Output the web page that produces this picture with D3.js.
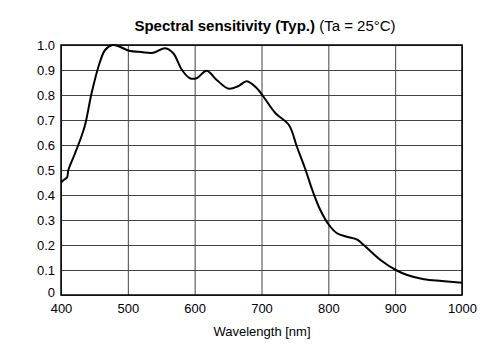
<!DOCTYPE html>
<html>
<head>
<meta charset="utf-8">
<script src="https://cdn.jsdelivr.net/npm/d3@7"></script>
<style>
  body { margin: 0; background: #fff; }
  svg text { font-family: "Liberation Sans", Arial, sans-serif; }
</style>
</head>
<body>
<div id="chart"></div>
<script>
// 読み取った値 (波長 nm, 相対感度)
const wavelength = [400, 404, 409, 411, 420, 430, 436, 446, 458, 466, 477, 488, 502, 520, 538, 556, 568, 581, 593, 603, 618, 633, 651, 665, 678, 693, 703, 721, 741, 753, 766, 776, 788, 801, 813, 828, 843, 853, 878, 901, 918, 943, 970, 1000]
const sensitivity = [0.45, 0.46, 0.47, 0.50, 0.56, 0.63, 0.68, 0.81, 0.93, 0.98, 1.0, 0.993, 0.977, 0.972, 0.969, 0.987, 0.967, 0.90, 0.867, 0.867, 0.897, 0.86, 0.825, 0.835, 0.855, 0.827, 0.793, 0.727, 0.68, 0.593, 0.5, 0.42, 0.34, 0.28, 0.247, 0.233, 0.222, 0.2, 0.14, 0.1, 0.08, 0.063, 0.056, 0.049]
const xTicks = [400, 500, 600, 700, 800, 900, 1000]
const yTicks = [0, 0.1, 0.2, 0.3, 0.4, 0.5, 0.6, 0.7, 0.8, 0.9, 1.0]

const width = 498, height = 358
const margin = { top: 45, right: 36, bottom: 63, left: 61 }

const svg = d3.select('#chart').append('svg')
  .attr('width', width)
  .attr('height', height)

const x = d3.scaleLinear().domain([400, 1000]).range([margin.left, width - margin.right])
const y = d3.scaleLinear().domain([0, 1]).range([height - margin.bottom, margin.top])

// グリッド
svg.append('g')
  .attr('transform', `translate(0,${height - margin.bottom})`)
  .call(d3.axisBottom(x).tickValues(xTicks).tickSize(-(height - margin.top - margin.bottom)).tickFormat(''))
  .call(g => g.select('.domain').remove())
  .call(g => g.selectAll('line').attr('stroke', '#444').attr('stroke-width', 1))

svg.append('g')
  .attr('transform', `translate(${margin.left},0)`)
  .call(d3.axisLeft(y).tickValues(yTicks).tickSize(-(width - margin.left - margin.right)).tickFormat(''))
  .call(g => g.select('.domain').remove())
  .call(g => g.selectAll('line').attr('stroke', '#444').attr('stroke-width', 1))

// 目盛りラベル
svg.append('g')
  .attr('transform', `translate(0,${height - margin.bottom})`)
  .call(d3.axisBottom(x).tickValues(xTicks).tickSize(0).tickPadding(9).tickFormat(d3.format('d')))
  .call(g => g.select('.domain').remove())
  .call(g => g.selectAll('text').attr('font-size', 13).attr('fill', '#000'))

svg.append('g')
  .attr('transform', `translate(${margin.left},0)`)
  .call(d3.axisLeft(y).tickValues(yTicks).tickSize(0).tickPadding(6)
    .tickFormat(d => d === 0 ? '0' : d3.format('.1f')(d)))
  .call(g => g.select('.domain').remove())
  .call(g => g.selectAll('text').attr('font-size', 13).attr('fill', '#000'))
  .call(g => g.selectAll('.tick').filter(d => d === 0).select('text').attr('dy', '0.1em'))

// 枠
svg.append('rect')
  .attr('x', margin.left)
  .attr('y', margin.top)
  .attr('width', width - margin.left - margin.right)
  .attr('height', height - margin.top - margin.bottom)
  .attr('fill', 'none')
  .attr('stroke', '#000')
  .attr('stroke-width', 1.5)

// 曲線
const line = d3.line()
  .x((d, i) => x(wavelength[i]))
  .y(d => y(d))
  .curve(d3.curveCatmullRom.alpha(0.5))

svg.append('path')
  .datum(sensitivity)
  .attr('d', line)
  .attr('fill', 'none')
  .attr('stroke', '#000')
  .attr('stroke-width', 2)

// タイトル
const title = svg.append('text')
  .attr('x', 265)
  .attr('y', 31)
  .attr('text-anchor', 'middle')
  .attr('font-size', 15)
title.append('tspan').attr('font-weight', 'bold').text('Spectral sensitivity (Typ.)')
title.append('tspan').text(' (Ta = 25°C)')

svg.append('text')
  .attr('x', 262)
  .attr('y', 336)
  .attr('text-anchor', 'middle')
  .attr('font-size', 13)
  .text('Wavelength [nm]')
</script>
</body>
</html>
